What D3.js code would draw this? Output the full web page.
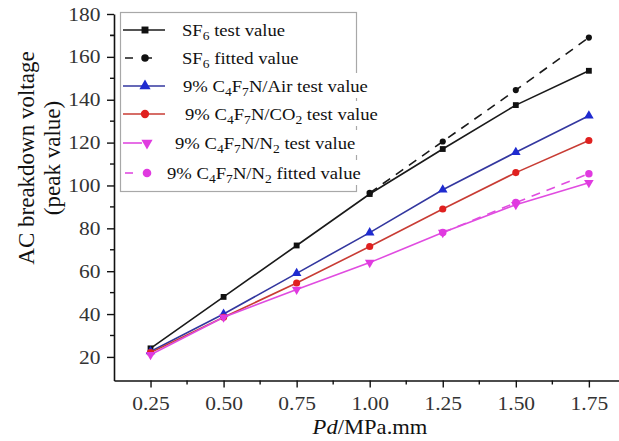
<!DOCTYPE html>
<html>
<head>
<meta charset="utf-8">
<script src="https://cdn.jsdelivr.net/npm/d3@7"></script>
<style>
  body { margin: 0; background: #fff; }
  svg { display: block; font-family: "Liberation Serif", "Times New Roman", serif; }
</style>
</head>
<body>
<script>
// values
var pdValues = [0.25, 0.50, 0.75, 1.00, 1.25, 1.50, 1.75];
var sf6Test = [24, 48, 72, 96, 117, 137.5, 153.5];
var sf6FitX = [1.00, 1.25, 1.50, 1.75];
var sf6Fit = [96.5, 120.5, 144.5, 169];
var airTest = [22.5, 40, 59, 78, 98, 115.5, 132.5];
var co2Test = [22, 38.5, 54.5, 71.5, 89, 106, 121];
var n2Test = [21, 38.5, 51.5, 64, 78, 91, 101.3];
var n2FitX = [1.25, 1.50, 1.75];
var n2Fit = [78, 92, 105.5];

var xTicks = [0.25, 0.50, 0.75, 1.00, 1.25, 1.50, 1.75];
var yTicks = [20, 40, 60, 80, 100, 120, 140, 160, 180];

var legendLabels = [
    "SF{6} test value",
    "SF{6} fitted value",
    "9% C{4}F{7}N/Air test value",
    "9% C{4}F{7}N/CO{2} test value",
    "9% C{4}F{7}N/N{2} test value",
    "9% C{4}F{7}N/N{2} fitted value"
];

var width = 619, height = 441;
var stretch = 1.13; // the source figure is a little wide

var xScale = d3.scaleLinear().domain([0.125, 1.875]).range([114, 625.4]);
var yScale = d3.scaleLinear().domain([9, 180]).range([380.5, 14]);

var series = [
    { xs: pdValues, ys: sf6Test, line: "#1a1a1a", mark: "#111", sym: d3.symbolSquare, size: 34, dash: null,
      lx0: 123, lx1: 165, mx: 145, textX: 182 },
    { xs: sf6FitX, ys: sf6Fit, line: "#1a1a1a", mark: "#111", sym: d3.symbolCircle, size: 30, dash: "9,7",
      lx0: 125, lx1: 157, mx: 145, textX: 182, legDash: "8,11" },
    { xs: pdValues, ys: airTest, line: "#33379f", mark: "#1f2bd0", sym: d3.symbolTriangle, size: 40, dash: null,
      lx0: 123, lx1: 165, mx: 145, textX: 183 },
    { xs: pdValues, ys: co2Test, line: "#c83c34", mark: "#e0201f", sym: d3.symbolCircle, size: 40, dash: null,
      lx0: 123, lx1: 165, mx: 145, textX: 185 },
    { xs: pdValues, ys: n2Test, line: "#e04ce0", mark: "#e03ae0", sym: d3.symbolTriangle, size: 40, dash: null, flip: true,
      lx0: 123, lx1: 142, mx: 147, textX: 175 },
    { xs: n2FitX, ys: n2Fit, line: "#e04ce0", mark: "#e03ae0", sym: d3.symbolCircle, size: 44, dash: "9,7",
      lx0: 125, lx1: 133, mx: 147, textX: 167, legDash: "8,20" }
];

var svg = d3.select("body").append("svg")
    .attr("width", width)
    .attr("height", height);

// x axis
var xAxis = d3.axisBottom(xScale).tickValues(xTicks).tickFormat(d3.format(".2f"))
    .tickSize(7).tickSizeOuter(0).tickPadding(9);
var gx = svg.append("g").attr("transform", "translate(0," + yScale(9) + ")").call(xAxis);
// minor ticks
var xMinor = xTicks.map(function (d) { return d + 0.125; });
gx.selectAll(".minor").data(xMinor).enter().append("line")
    .attr("x1", function (d) { return xScale(d); })
    .attr("x2", function (d) { return xScale(d); })
    .attr("y1", 0).attr("y2", 4);

// y axis
var yAxis = d3.axisLeft(yScale).tickValues(yTicks)
    .tickSize(7).tickSizeOuter(0).tickPadding(5);
var gy = svg.append("g").attr("transform", "translate(" + xScale(0.125) + ",0)").call(yAxis);
var yMinor = yTicks.map(function (d) { return d - 10; }).concat([170]).filter(function (d) { return d > 10; });
gy.selectAll(".minor").data(yMinor).enter().append("line")
    .attr("y1", function (d) { return yScale(d); })
    .attr("y2", function (d) { return yScale(d); })
    .attr("x1", 0).attr("x2", -4);

[gx, gy].forEach(function (g) {
    g.select(".domain").attr("stroke", "#111").attr("stroke-width", 1.6);
    g.selectAll("line").attr("stroke", "#111").attr("stroke-width", 1.4);
    g.selectAll("text")
        .attr("font-family", "Liberation Serif, serif")
        .attr("font-size", 19)
        .attr("fill", "#333")
        .attr("transform", "scale(" + stretch + ",1)");
});
gx.selectAll(".tick text").attr("x", 0);

// axis titles
svg.append("text")
    .attr("transform", "translate(" + 370 + "," + 434 + ") scale(" + stretch + ",1)")
    .attr("text-anchor", "middle")
    .attr("font-size", 20)
    .attr("fill", "#111")
    .call(function (t) {
        t.append("tspan").attr("font-style", "italic").text("Pd");
        t.append("tspan").text("/MPa.mm");
    });

var yTitle = svg.append("g").attr("transform", "translate(0,158) rotate(-90)");
yTitle.append("text").attr("x", 0).attr("y", 34)
    .attr("text-anchor", "middle").attr("font-size", 23).attr("fill", "#111")
    .text("AC breakdown voltage");
yTitle.append("text").attr("x", 0).attr("y", 60)
    .attr("text-anchor", "middle").attr("font-size", 23).attr("fill", "#111")
    .text("(peak value)");

// lines and markers
var plot = svg.append("g");
series.forEach(function (s) {
    var pts = s.xs.map(function (x, i) { return [x, s.ys[i]]; });
    var line = d3.line()
        .x(function (d) { return xScale(d[0]); })
        .y(function (d) { return yScale(d[1]); });
    plot.append("path")
        .attr("d", line(pts))
        .attr("fill", "none")
        .attr("stroke", s.line)
        .attr("stroke-width", 1.6)
        .attr("stroke-dasharray", s.dash);
    plot.selectAll(null).data(pts).enter().append("path")
        .attr("d", d3.symbol().type(s.sym).size(s.size))
        .attr("transform", function (d) {
            return "translate(" + xScale(d[0]) + "," + yScale(d[1]) + ")" + (s.flip ? " rotate(180)" : "");
        })
        .attr("fill", s.mark);
});

// legend
var legend = svg.append("g");
legend.append("rect")
    .attr("x", 120.5).attr("y", 12.5)
    .attr("width", 236).attr("height", 179)
    .attr("fill", "#fff")
    .attr("stroke", "#a8a8a8")
    .attr("stroke-width", 1.2);

var rowY = [30, 58, 86, 114, 143, 173];

function addLabel(textSel, label) {
    var parts = label.split(/(\{[^}]*\})/);
    var sub = false;
    parts.forEach(function (p) {
        if (!p) return;
        if (p.charAt(0) === "{") {
            textSel.append("tspan").attr("font-size", 12).attr("dy", 4).text(p.slice(1, -1));
            sub = true;
        } else {
            var ts = textSel.append("tspan").text(p);
            if (sub) { ts.attr("dy", -4); sub = false; }
        }
    });
}

series.forEach(function (s, i) {
    var y = rowY[i];
    var row = legend.append("g");
    var bg = row.append("rect").attr("fill", "#fff");
    var t = row.append("text")
        .attr("transform", "translate(" + s.textX + "," + (y + 6) + ") scale(" + stretch + ",1)")
        .attr("font-size", 16.5)
        .attr("fill", "#111");
    addLabel(t, legendLabels[i]);
    var w = t.node().getComputedTextLength() * stretch;
    bg.attr("x", s.textX - 3).attr("y", y - 13).attr("width", w + 6).attr("height", 25);

    row.append("line")
        .attr("x1", s.lx0).attr("x2", s.lx1)
        .attr("y1", y).attr("y2", y)
        .attr("stroke", s.line).attr("stroke-width", 1.6)
        .attr("stroke-dasharray", s.legDash || null);
    row.append("path")
        .attr("d", d3.symbol().type(s.sym).size(s.size + 14))
        .attr("transform", "translate(" + s.mx + "," + y + ")" + (s.flip ? " rotate(180)" : ""))
        .attr("fill", s.mark);
});
</script>
</body>
</html>
